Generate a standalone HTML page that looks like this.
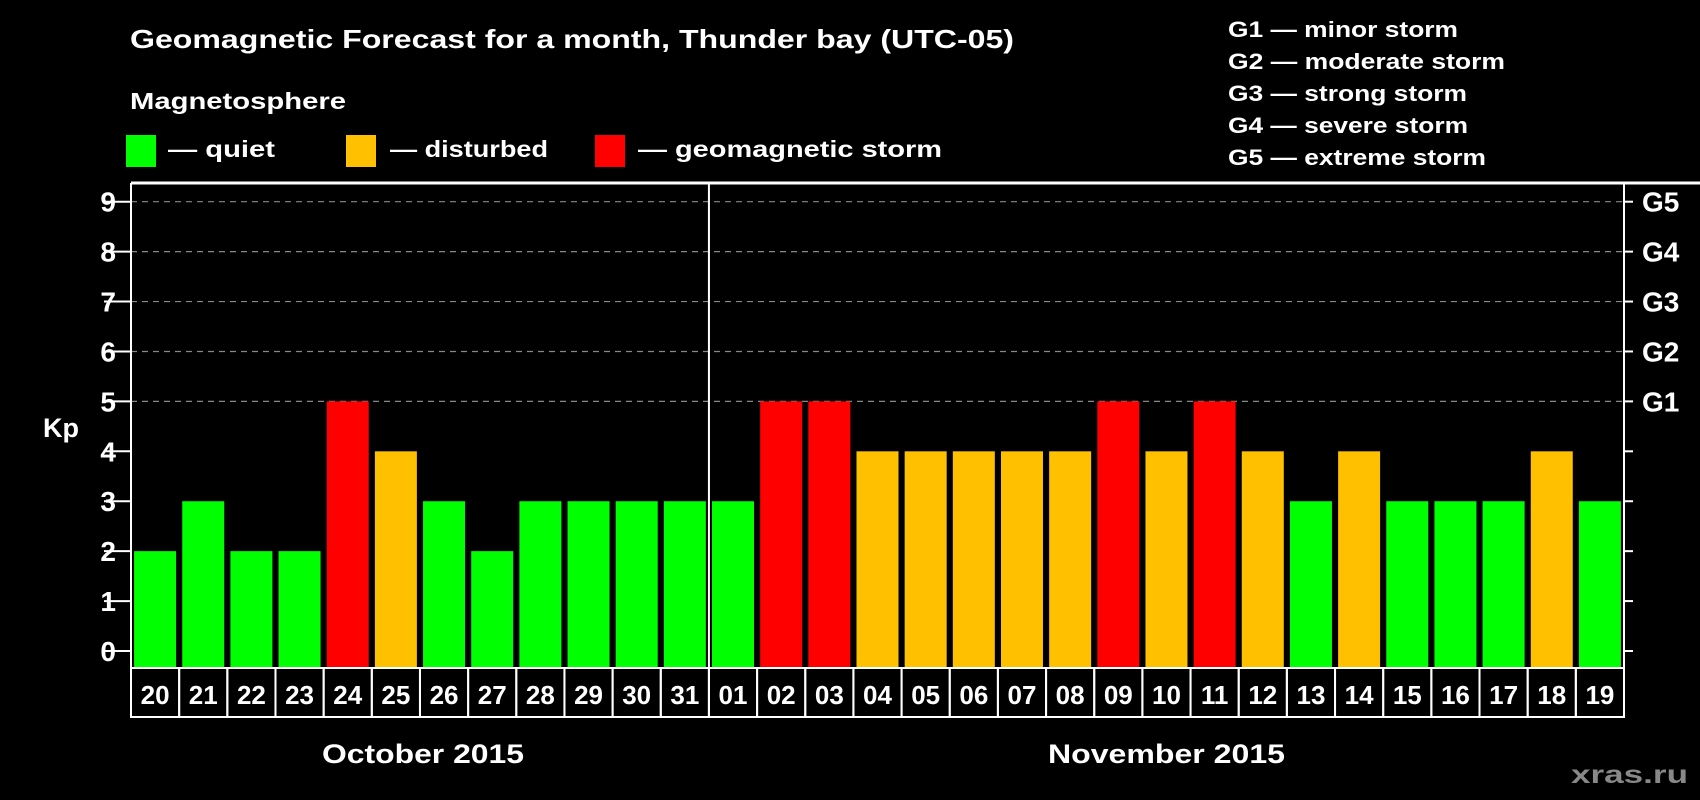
<!DOCTYPE html>
<html><head><meta charset="utf-8"><style>
html,body{margin:0;padding:0;background:#000;}
svg{display:block;font-family:"Liberation Sans",Arial,sans-serif;font-weight:bold;}
</style></head><body>
<svg id="chart" width="1700" height="800" viewBox="0 0 1700 800" xmlns="http://www.w3.org/2000/svg">
<rect x="0" y="0" width="1700" height="800" fill="#000"/>
<text x="130" y="48" fill="#fff" font-size="26" textLength="884" lengthAdjust="spacingAndGlyphs">Geomagnetic Forecast for a month, Thunder bay (UTC-05)</text>
<text x="130" y="109" fill="#fff" font-size="23" textLength="216" lengthAdjust="spacingAndGlyphs">Magnetosphere</text>
<g>
<rect x="126" y="135" width="30" height="32" fill="#00ff00"/>
<text x="168" y="157" fill="#fff" font-size="23" textLength="107" lengthAdjust="spacingAndGlyphs">— quiet</text></g>
<g>
<rect x="346" y="135" width="30" height="32" fill="#ffc000"/>
<text x="390" y="157" fill="#fff" font-size="23" textLength="158" lengthAdjust="spacingAndGlyphs">— disturbed</text></g>
<g>
<rect x="595" y="135" width="30" height="32" fill="#ff0000"/>
<text x="638" y="157" fill="#fff" font-size="23" textLength="304" lengthAdjust="spacingAndGlyphs">— geomagnetic storm</text></g>
<g font-size="22" fill="#fff">
<text x="1228" y="37" textLength="230" lengthAdjust="spacingAndGlyphs">G1 — minor storm</text>
<text x="1228" y="69" textLength="277" lengthAdjust="spacingAndGlyphs">G2 — moderate storm</text>
<text x="1228" y="101" textLength="239" lengthAdjust="spacingAndGlyphs">G3 — strong storm</text>
<text x="1228" y="133" textLength="240" lengthAdjust="spacingAndGlyphs">G4 — severe storm</text>
<text x="1228" y="165" textLength="258" lengthAdjust="spacingAndGlyphs">G5 — extreme storm</text>
</g>
<text x="43" y="437" fill="#fff" font-size="27" textLength="36" lengthAdjust="spacingAndGlyphs">Kp</text>
<g id="grid"></g><g id="bars"></g><g id="axes"></g><g id="labels"></g>
<text x="322" y="763" fill="#fff" font-size="27" textLength="202" lengthAdjust="spacingAndGlyphs">October 2015</text>
<text x="1048" y="763" fill="#fff" font-size="27" textLength="237" lengthAdjust="spacingAndGlyphs">November 2015</text>
<text x="1571" y="783" fill="#888" font-size="25" textLength="117" lengthAdjust="spacingAndGlyphs">xras.ru</text>
</svg>
<script>
const days = ["20","21","22","23","24","25","26","27","28","29","30","31","01","02","03","04","05","06","07","08","09","10","11","12","13","14","15","16","17","18","19"];
const kpValues = [2,3,2,2,5,4,3,2,3,3,3,3,3,5,5,4,4,4,4,4,5,4,5,4,3,4,3,3,3,4,3];
const yTicks = [0,1,2,3,4,5,6,7,8,9];
const gLabels = ["G1","G2","G3","G4","G5"];
const monthSplitIndex = 12;

const NS="http://www.w3.org/2000/svg";
const L=131,R=1624,T=183,B=668,Y0=651,Y9=201.7;
const slot=(R-L)/days.length;
const yScale=v=>Y0-(Y0-Y9)*v/9;
const xScale=i=>L+i*slot;
function mk(tag,attrs,parent){const e=document.createElementNS(NS,tag);for(const k in attrs)e.setAttribute(k,attrs[k]);parent.appendChild(e);return e;}
const gridG=document.getElementById('grid'),barsG=document.getElementById('bars'),axesG=document.getElementById('axes'),labelsG=document.getElementById('labels');
yTicks.forEach(t=>{
  if(t>=5){const g=mk('line',{x1:L,x2:R,y1:yScale(t),y2:yScale(t),stroke:'#888','stroke-width':1.2,'stroke-dasharray':'6,5'},gridG);
  
  }
  const tk=mk('line',{x1:104,x2:L,y1:yScale(t),y2:yScale(t),stroke:'#fff','stroke-width':2},axesG);
  
  
  const tr=mk('line',{x1:R,x2:R+9,y1:yScale(t),y2:yScale(t),stroke:'#fff','stroke-width':2},axesG);
  
  
  const lb=mk('text',{x:116,y:yScale(t)+10,fill:'#fff','font-size':28,'text-anchor':'end'},labelsG);
  lb.textContent=t;
  
  
});
gLabels.forEach((g,i)=>{
  const lb=mk('text',{x:1642,y:yScale(5+i)+10,fill:'#fff','font-size':28},labelsG);
  lb.textContent=g;
  
  
});
kpValues.forEach((v,i)=>{
  const c=v>=5?'#ff0000':(v>=4?'#ffc000':'#00ff00');
  const cx=xScale(i)+slot/2;
  const r=mk('rect',{x:cx-21,y:yScale(v),width:42,height:B-yScale(v),fill:c},barsG);
  
  
  const bx=mk('rect',{x:xScale(i),y:B,width:slot,height:49,fill:'none',stroke:'#fff','stroke-width':2},axesG);
  
  
  const t=mk('text',{x:cx,y:B+36,fill:'#fff','font-size':26,'text-anchor':'middle'},labelsG);
  t.textContent=days[i];
  
  
});
const topBorder=mk('line',{x1:L,x2:1700,y1:T,y2:T,stroke:'#fff','stroke-width':3},axesG);


const leftAxis=mk('line',{x1:L,x2:L,y1:T,y2:B,stroke:'#fff','stroke-width':2},axesG);


const rightAxis=mk('line',{x1:R,x2:R,y1:T,y2:B,stroke:'#fff','stroke-width':2},axesG);


const divider=mk('line',{x1:xScale(monthSplitIndex),x2:xScale(monthSplitIndex),y1:T,y2:B+49,stroke:'#fff','stroke-width':2},axesG);


</script>
</body></html>
